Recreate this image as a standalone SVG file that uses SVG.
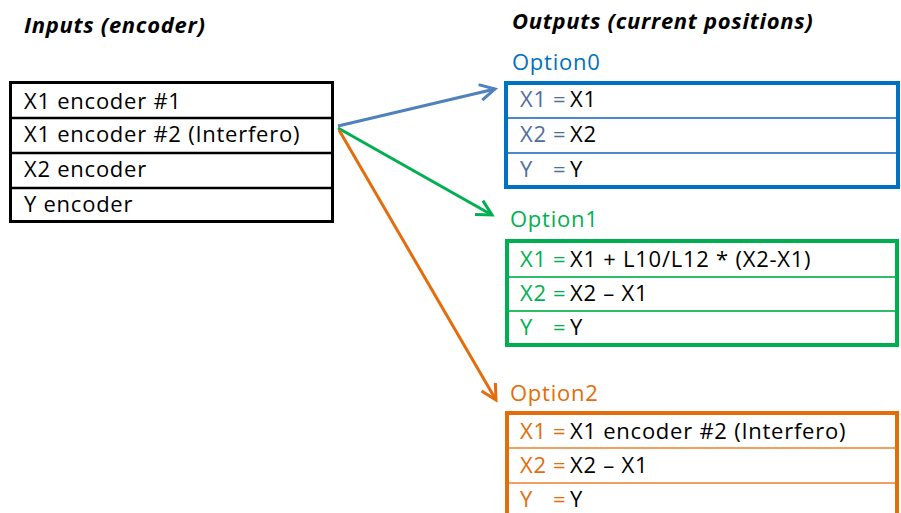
<svg xmlns="http://www.w3.org/2000/svg" width="901" height="513" viewBox="0 0 901 513">
<defs>
<style>
text{font-family:"Open Sans","Liberation Sans",sans-serif;font-size:22px;letter-spacing:0.75px;fill:#000}
.title{font-weight:bold;font-style:italic;font-size:22px;letter-spacing:0.7px}
.b{fill:#0070C0}.bl{fill:#4E6E9E}
.g{fill:#00B050}
.o{fill:#E46C0A}
.conn{fill:none;stroke-width:3}
</style>
<marker id="ab" markerUnits="userSpaceOnUse" markerWidth="30" markerHeight="30" viewBox="-20 -15 30 30" refX="0" refY="0" orient="auto"><path d="M-15,-8 L0,0 L-15,8" fill="none" stroke="#4F81BD" stroke-width="3"/></marker>
<marker id="ag" markerUnits="userSpaceOnUse" markerWidth="30" markerHeight="30" viewBox="-20 -15 30 30" refX="0" refY="0" orient="auto"><path d="M-15,-8 L0,0 L-15,8" fill="none" stroke="#00B050" stroke-width="3"/></marker>
<marker id="ao" markerUnits="userSpaceOnUse" markerWidth="30" markerHeight="30" viewBox="-20 -15 30 30" refX="0" refY="0" orient="auto"><path d="M-15,-8 L0,0 L-15,8" fill="none" stroke="#E46C0A" stroke-width="3"/></marker>
</defs>
<rect width="901" height="513" fill="#fff"/>

<text class="title" x="24" y="33">Inputs (encoder)</text>
<text class="title" x="512" y="29">Outputs (current positions)</text>

<g id="inputs">
<rect x="10.5" y="82.5" width="322" height="139" fill="#fff" stroke="#000" stroke-width="3"/>
<path d="M10 118H333M10 153H333M10 188H333" stroke="#000" stroke-width="2.5"/>
<text x="24" y="109">X1 encoder #1</text>
<text x="24" y="142">X1 encoder #2 (Interfero)</text>
<text x="24" y="177">X2 encoder</text>
<text x="24" y="212">Y encoder</text>
</g>

<g id="option0">
<text class="b" x="512" y="70">Option0</text>
<rect x="506" y="83" width="392" height="104" fill="#fff" stroke="#0070C0" stroke-width="4"/>
<path d="M508 118H896M508 153H896" stroke="#4A8ACB" stroke-width="2"/>
<text x="520" y="107"><tspan class="bl">X1</tspan><tspan class="bl" x="553">=</tspan><tspan x="570">X1</tspan></text>
<text x="520" y="142"><tspan class="bl">X2</tspan><tspan class="bl" x="553">=</tspan><tspan x="570">X2</tspan></text>
<text x="520" y="177"><tspan class="bl">Y</tspan><tspan class="bl" x="553">=</tspan><tspan x="570">Y</tspan></text>
</g>

<g id="option1">
<text class="g" x="510" y="227">Option1</text>
<rect x="507" y="241" width="390" height="104" fill="#fff" stroke="#00B050" stroke-width="4"/>
<path d="M509 277H895M509 311H895" stroke="#2DBE6C" stroke-width="2"/>
<text x="520" y="267"><tspan class="g">X1</tspan><tspan class="g" x="553">=</tspan><tspan x="570">X1 + L10/L12 * (X2-X1)</tspan></text>
<text x="520" y="301"><tspan class="g">X2</tspan><tspan class="g" x="553">=</tspan><tspan x="570">X2 – X1</tspan></text>
<text x="520" y="335"><tspan class="g">Y</tspan><tspan class="g" x="553">=</tspan><tspan x="570">Y</tspan></text>
</g>

<g id="option2">
<text class="o" x="510" y="401">Option2</text>
<rect x="507" y="413" width="390" height="115" fill="#fff" stroke="#E46C0A" stroke-width="4"/>
<path d="M509 448H895M509 483H895" stroke="#F0A060" stroke-width="2"/>
<text x="520" y="439"><tspan class="o">X1</tspan><tspan class="o" x="553">=</tspan><tspan x="570">X1 encoder #2 (Interfero)</tspan></text>
<text x="520" y="473"><tspan class="o">X2</tspan><tspan class="o" x="553">=</tspan><tspan x="570">X2 – X1</tspan></text>
<text x="520" y="507"><tspan class="o">Y</tspan><tspan class="o" x="553">=</tspan><tspan x="570">Y</tspan></text>
</g>

<g id="connectors">
<line class="conn" x1="338" y1="126" x2="495" y2="89" stroke="#4F81BD" marker-end="url(#ab)"/>
<line class="conn" x1="338" y1="128" x2="492" y2="215" stroke="#00B050" marker-end="url(#ag)"/>
<line class="conn" x1="339" y1="130" x2="496" y2="400" stroke="#E46C0A" marker-end="url(#ao)"/>
</g>
</svg>
